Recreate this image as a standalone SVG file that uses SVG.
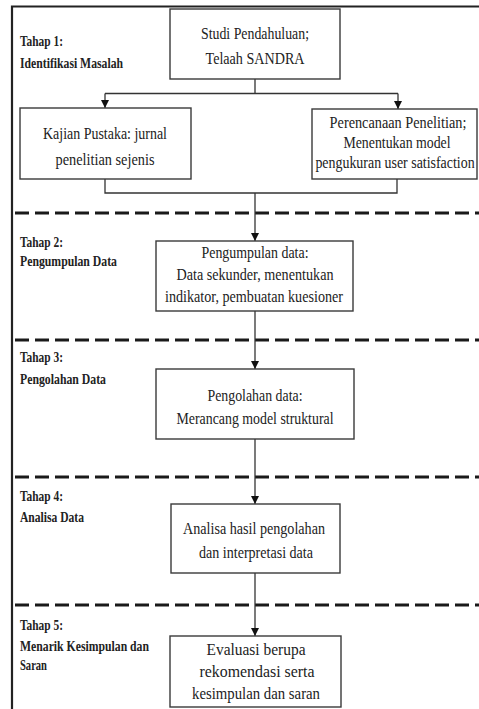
<svg xmlns="http://www.w3.org/2000/svg" width="479" height="709" viewBox="0 0 479 709">
<style>
.bg{fill:#ffffff}
.frame{fill:none;stroke:#222;stroke-width:2.2}
.dash{fill:none;stroke:#1a1a1a;stroke-width:3;stroke-dasharray:14 6}
.box{fill:#ffffff;stroke:#3a3a3a;stroke-width:1.4}
.line{fill:none;stroke:#333;stroke-width:1.3}
.t{font-family:"Liberation Serif","Times New Roman",serif;font-size:17px;fill:#222;text-anchor:middle}
.lbl{font-family:"Liberation Serif","Times New Roman",serif;font-size:15px;font-weight:bold;fill:#222}
</style>
<defs>
<marker id="arr" viewBox="0 0 8 10" refX="8" refY="5" markerWidth="8" markerHeight="10" markerUnits="userSpaceOnUse" orient="auto">
<path d="M0,1 L8,5 L0,9 Z" fill="#111"/>
</marker>
</defs>
<rect class="bg" x="0" y="0" width="479" height="709"/>
<g id="frame">
<path class="frame" d="M12,709 V6.5 H479"/>
<line class="dash" x1="15" y1="213" x2="479" y2="213"/>
<line class="dash" x1="15" y1="340" x2="479" y2="340"/>
<line class="dash" x1="15" y1="477" x2="479" y2="477"/>
<line class="dash" x1="15" y1="605" x2="479" y2="605"/>
</g>
<g id="labels">
<text class="lbl" x="20" y="46" textLength="43" lengthAdjust="spacingAndGlyphs">Tahap 1:</text>
<text class="lbl" x="20" y="68" textLength="103" lengthAdjust="spacingAndGlyphs">Identifikasi Masalah</text>
<text class="lbl" x="20" y="247" textLength="43" lengthAdjust="spacingAndGlyphs">Tahap 2:</text>
<text class="lbl" x="20" y="266" textLength="97" lengthAdjust="spacingAndGlyphs">Pengumpulan Data</text>
<text class="lbl" x="20" y="362" textLength="43" lengthAdjust="spacingAndGlyphs">Tahap 3:</text>
<text class="lbl" x="20" y="384" textLength="86" lengthAdjust="spacingAndGlyphs">Pengolahan Data</text>
<text class="lbl" x="20" y="501" textLength="43" lengthAdjust="spacingAndGlyphs">Tahap 4:</text>
<text class="lbl" x="20" y="522" textLength="64" lengthAdjust="spacingAndGlyphs">Analisa Data</text>
<text class="lbl" x="20" y="630" textLength="43" lengthAdjust="spacingAndGlyphs">Tahap 5:</text>
<text class="lbl" x="20" y="651" textLength="129" lengthAdjust="spacingAndGlyphs">Menarik Kesimpulan dan</text>
<text class="lbl" x="20" y="670" textLength="27" lengthAdjust="spacingAndGlyphs">Saran</text>
</g>
<g id="connectors">
<path class="line" d="M255,79 V93.5 M105,93.5 H398"/>
<path class="line" d="M105,93.5 V108" marker-end="url(#arr)"/>
<path class="line" d="M398,93.5 V109" marker-end="url(#arr)"/>
<path class="line" d="M105,179 V193 H397 V179"/>
<path class="line" d="M255,193 V241" marker-end="url(#arr)"/>
<path class="line" d="M255,311 V369" marker-end="url(#arr)"/>
<path class="line" d="M255,439 V504" marker-end="url(#arr)"/>
<path class="line" d="M255,573 V636" marker-end="url(#arr)"/>
</g>
<g id="n1">
<rect class="box" x="170" y="9" width="170" height="70"/>
<text class="t" x="255" y="39" textLength="108" lengthAdjust="spacingAndGlyphs">Studi Pendahuluan;</text>
<text class="t" x="255" y="64" textLength="99" lengthAdjust="spacingAndGlyphs">Telaah SANDRA</text>
</g>
<g id="n2">
<rect class="box" x="20" y="108" width="171" height="71"/>
<text class="t" x="105" y="139" textLength="124" lengthAdjust="spacingAndGlyphs">Kajian Pustaka: jurnal</text>
<text class="t" x="105" y="165" textLength="99" lengthAdjust="spacingAndGlyphs">penelitian sejenis</text>
</g>
<g id="n3">
<rect class="box" x="312" y="109" width="165" height="70"/>
<text class="t" transform="translate(398,128) scale(0.8,1)" textLength="171" lengthAdjust="spacingAndGlyphs">Perencanaan Penelitian;</text>
<text class="t" transform="translate(397,148) scale(0.8,1)" textLength="134" lengthAdjust="spacingAndGlyphs">Menentukan model</text>
<text class="t" transform="translate(395,168) scale(0.8,1)" textLength="199" lengthAdjust="spacingAndGlyphs">pengukuran user satisfaction</text>
</g>
<g id="n4">
<rect class="box" x="156" y="241" width="197" height="70"/>
<text class="t" x="255" y="258" textLength="107" lengthAdjust="spacingAndGlyphs">Pengumpulan data:</text>
<text class="t" x="255" y="280" textLength="157" lengthAdjust="spacingAndGlyphs">Data sekunder, menentukan</text>
<text class="t" x="254" y="302" textLength="178" lengthAdjust="spacingAndGlyphs">indikator, pembuatan kuesioner</text>
</g>
<g id="n5">
<rect class="box" x="156" y="369" width="198" height="70"/>
<text class="t" x="255" y="401" textLength="95" lengthAdjust="spacingAndGlyphs">Pengolahan data:</text>
<text class="t" x="255" y="424" textLength="157" lengthAdjust="spacingAndGlyphs">Merancang model struktural</text>
</g>
<g id="n6">
<rect class="box" x="171" y="504" width="169" height="69"/>
<text class="t" x="254" y="534" textLength="142" lengthAdjust="spacingAndGlyphs">Analisa hasil pengolahan</text>
<text class="t" x="256" y="558" textLength="114" lengthAdjust="spacingAndGlyphs">dan interpretasi data</text>
</g>
<g id="n7">
<rect class="box" x="170" y="636" width="171" height="71"/>
<text class="t" x="256" y="655" textLength="99" lengthAdjust="spacingAndGlyphs">Evaluasi berupa</text>
<text class="t" x="257" y="677" textLength="115" lengthAdjust="spacingAndGlyphs">rekomendasi serta</text>
<text class="t" x="256" y="699" textLength="128" lengthAdjust="spacingAndGlyphs">kesimpulan dan saran</text>
</g>
</svg>
